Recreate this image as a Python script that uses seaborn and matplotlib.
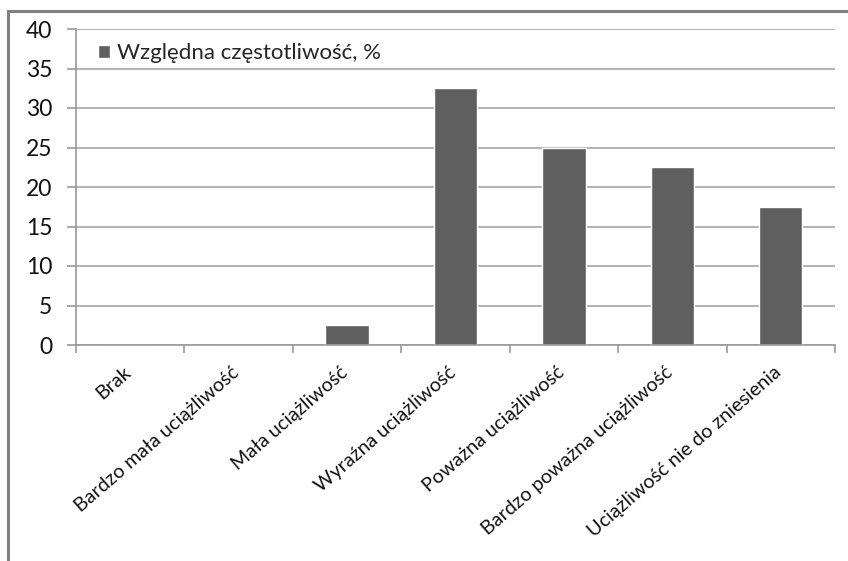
import matplotlib
matplotlib.use("Agg")
import matplotlib.pyplot as plt
import matplotlib.transforms as mtransforms
import seaborn as sns
import pandas as pd
from matplotlib.patches import Rectangle

categories = [
    "Brak",
    "Bardzo mała uciążliwość",
    "Mała uciążliwość",
    "Wyraźna uciążliwość",
    "Poważna uciążliwość",
    "Bardzo poważna uciążliwość",
    "Uciążliwość nie do zniesienia",
]
values = [0, 0, 2.5, 32.5, 25, 22.5, 17.5]
series_name = "Względna częstotliwość, %"
yticks = [0, 5, 10, 15, 20, 25, 30, 35, 40]

sns.set_theme(style="white")
plt.rcParams["font.family"] = ["Lato", "DejaVu Sans"]

df = pd.DataFrame({"kategoria": categories, "wartość": values})

fig = plt.figure(figsize=(8.48, 5.61), dpi=100)
ax = fig.add_axes([76 / 848, 1 - 345 / 561, (835 - 76) / 848, (345 - 29) / 561])

bar_color = "#5f5f5f"
sns.barplot(data=df, x="kategoria", y="wartość", color=bar_color, width=0.4,
            saturation=1, ax=ax, label=series_name)

ax.set_xlim(-0.5, len(categories) - 0.5)
ax.set_ylim(0, 40)
ax.set_yticks(yticks)
ax.set_yticklabels([str(t) for t in yticks], fontsize=16.5, color="#111111")
ax.yaxis.grid(True, color="#a6a6a6", linewidth=1.2)
ax.set_axisbelow(True)
ax.set_xlabel("")
ax.set_ylabel("")

for side in ["top", "right"]:
    ax.spines[side].set_visible(False)
for side in ["left", "bottom"]:
    ax.spines[side].set_color("#9a9a9a")
    ax.spines[side].set_linewidth(1.2)

ax.tick_params(axis="y", which="both", left=True, length=6.5, width=1.2,
               color="#9a9a9a", pad=10.5)

# category labels rotated, tick marks at category boundaries
ax.set_xticks(range(len(categories)))
ax.set_xticklabels(categories, rotation=41, ha="right", va="center",
                   rotation_mode="anchor", fontsize=14.2, color="#111111")
ax.tick_params(axis="x", which="major", bottom=False, pad=12)
shift = mtransforms.ScaledTranslation(-2 / 100, 0, fig.dpi_scale_trans)
for lbl in ax.get_xticklabels():
    lbl.set_transform(lbl.get_transform() + shift)
ax.set_xticks([i - 0.5 for i in range(len(categories) + 1)], minor=True)
ax.tick_params(axis="x", which="minor", bottom=True, length=6, width=1.2,
               color="#9a9a9a")

leg = ax.legend(loc="upper left", bbox_to_anchor=(0.0, 1.025), frameon=False,
                fontsize=16, handlelength=0.55, handleheight=0.55,
                handletextpad=0.3, borderaxespad=0.6)

# outer chart frame (left and top edges)
fig.patches.append(Rectangle((8 / 848, -0.1), 1.2, 1 - 11 / 561 + 0.1,
                             transform=fig.transFigure, fill=False,
                             edgecolor="#808080", linewidth=2.2))

fig.savefig("out.png", dpi=100)
